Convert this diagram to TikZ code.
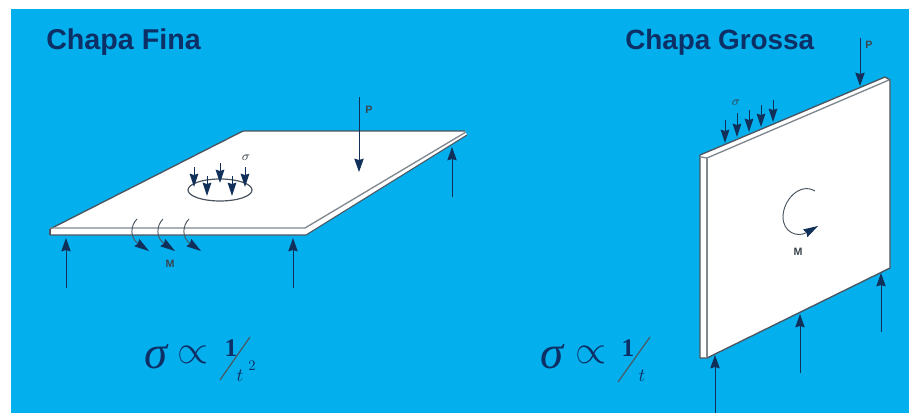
\documentclass[tikz,border=0pt]{standalone}
\usepackage{fontspec}
\setmainfont{Liberation Sans}
\newfontfamily\numserif{Liberation Serif}
\usetikzlibrary{arrows.meta}
\definecolor{bgblue}{HTML}{03AFEC}
\definecolor{navy}{HTML}{0C2F66}
\definecolor{force}{HTML}{10305A}
\definecolor{edge}{HTML}{4A5560}
\tikzset{
  plate/.style={fill=white,draw=edge,line width=1.1pt,line join=round},
  edgeline/.style={draw=edge!70!white,line width=1pt},
  force/.style={draw=force,line width=0.75pt,-{Stealth[length=10pt,width=7pt,inset=1pt]}},
  small force/.style={draw=force,line width=0.7pt,-{Stealth[length=10pt,width=6.5pt,inset=1pt]}},
  moment/.style={draw=edge,line width=0.7pt,-{Stealth[length=11pt,width=6.5pt,inset=1pt,color=force,fill=force]}},
  title/.style={font=\fontsize{21.5}{24}\selectfont\bfseries,text=navy,inner sep=0pt},
  tag/.style={font=\fontsize{8}{9}\selectfont\bfseries,text=edge!80!black,inner sep=0pt},
  formula/.style={text=navy,inner sep=0pt},
  frac/.style={draw=edge,line width=0.85pt}
}
\begin{document}
\begin{tikzpicture}[x=0.75pt,y=-0.75pt]
\useasboundingbox (0,0) rectangle (909,414);
\fill[white] (0,0) rectangle (909,414);
\fill[bgblue] (11,9) rectangle (909,413);
% titles
\node[title,anchor=west] (t1) at (46,42) {Chapa Fina};
\node[title,anchor=west,font=\fontsize{20.9}{24}\selectfont\bfseries] (t2) at (625,42) {Chapa Grossa};
% left plate
\fill[white] (243,131) -- (465,131) -- (467,135) -- (306,235) -- (50,235) -- (50,229) -- cycle;
\draw[plate,fill=none,line width=1pt] (50,229) -- (243,131) -- (465,131);
\draw[edgeline] (50,228) -- (305,228) -- (466,132);
\draw[draw=edge,line width=0.8pt] (50,235) -- (306,235) -- (467,135);
\draw[draw=edge,line width=0.8pt] (50,229) -- (50,235);
% stress ellipse and arrows
\draw[edge,line width=0.9pt] (220,190) ellipse[x radius=32,y radius=11];
\draw[small force] (194,167) -- (194,187);
\draw[small force] (207,176) -- (207,196);
\draw[small force] (220,163) -- (220,183);
\draw[small force] (232,176) -- (232,196);
\draw[small force] (245,167) -- (245,187);
\node[tag,scale=1.2] (s1) at (246,158) {$\sigma$};
% load and supports
\draw[force] (359,97) -- (359,172);
\node[tag] (p1) at (369,110) {P};
\draw[force] (452,197) -- (452,147);
\draw[force] (66,288) -- (66,238);
\draw[force] (293,288) -- (293,238);
% moments
\foreach \x in {0,26,52}{
  \draw[moment] (137+\x,219) .. controls (130+\x,226) and (130+\x,238) .. (149+\x,251);
}
\node[tag] (m1) at (170,264) {M};
% formula left
\node[formula,scale=3.5,font=\numserif\itshape] (f1) at (156,357) {σ};
\node[formula,scale=3.0] (f2) at (193,355) {$\propto$};
\node[formula,scale=1.9,font=\numserif\bfseries] (f3) at (231,348) {1};
\coordinate (f4a) at (250,337); \coordinate (f4b) at (220,380);
\draw[frac] (f4a) -- (f4b);
\node[formula,scale=1.4] (f5) at (240,376) {$t$};
\node[formula,scale=1.1] (f6) at (252,366) {$2$};
% right plate
\draw[plate,line width=1pt] (700,155) -- (885,77) -- (890,80) -- (890,268) -- (707,358) -- (700,358) -- cycle;
\draw[edgeline] (701,157) -- (707,158) -- (889,80);
\draw[edgeline] (707,158) -- (707,357);
% right plate arrows
\draw[force] (860,38) -- (860,86);
\node[tag] (p2) at (869,45) {P};
\draw[small force] (725,120) -- (725,143);
\draw[small force] (737,113) -- (737,137);
\draw[small force] (749,110) -- (749,132);
\draw[small force] (761,105) -- (761,127);
\draw[small force] (773,100) -- (773,122);
\node[tag,scale=1.2] (s2) at (736,103) {$\sigma$};
\draw[force] (715,413) -- (715,355);
\draw[force] (800,373) -- (800,314);
\draw[force] (881,332) -- (881,273);
% moment on right plate
\draw[moment] (815,191) .. controls (800,182) and (783,200) .. (783,217) .. controls (783,232) and (797,238) .. (818,226);
\node[tag] (m2) at (798,252) {M};
% formula right
\node[formula,scale=3.5,font=\numserif\itshape] (g1) at (552,357) {σ};
\node[formula,scale=3.0] (g2) at (591,355) {$\propto$};
\node[formula,scale=1.9,font=\numserif\bfseries] (g3) at (628,348) {1};
\coordinate (g4a) at (650,337); \coordinate (g4b) at (618,382);
\draw[frac] (g4a) -- (g4b);
\node[formula,scale=1.4] (g5) at (642,376) {$t$};
\end{tikzpicture}
\end{document}
